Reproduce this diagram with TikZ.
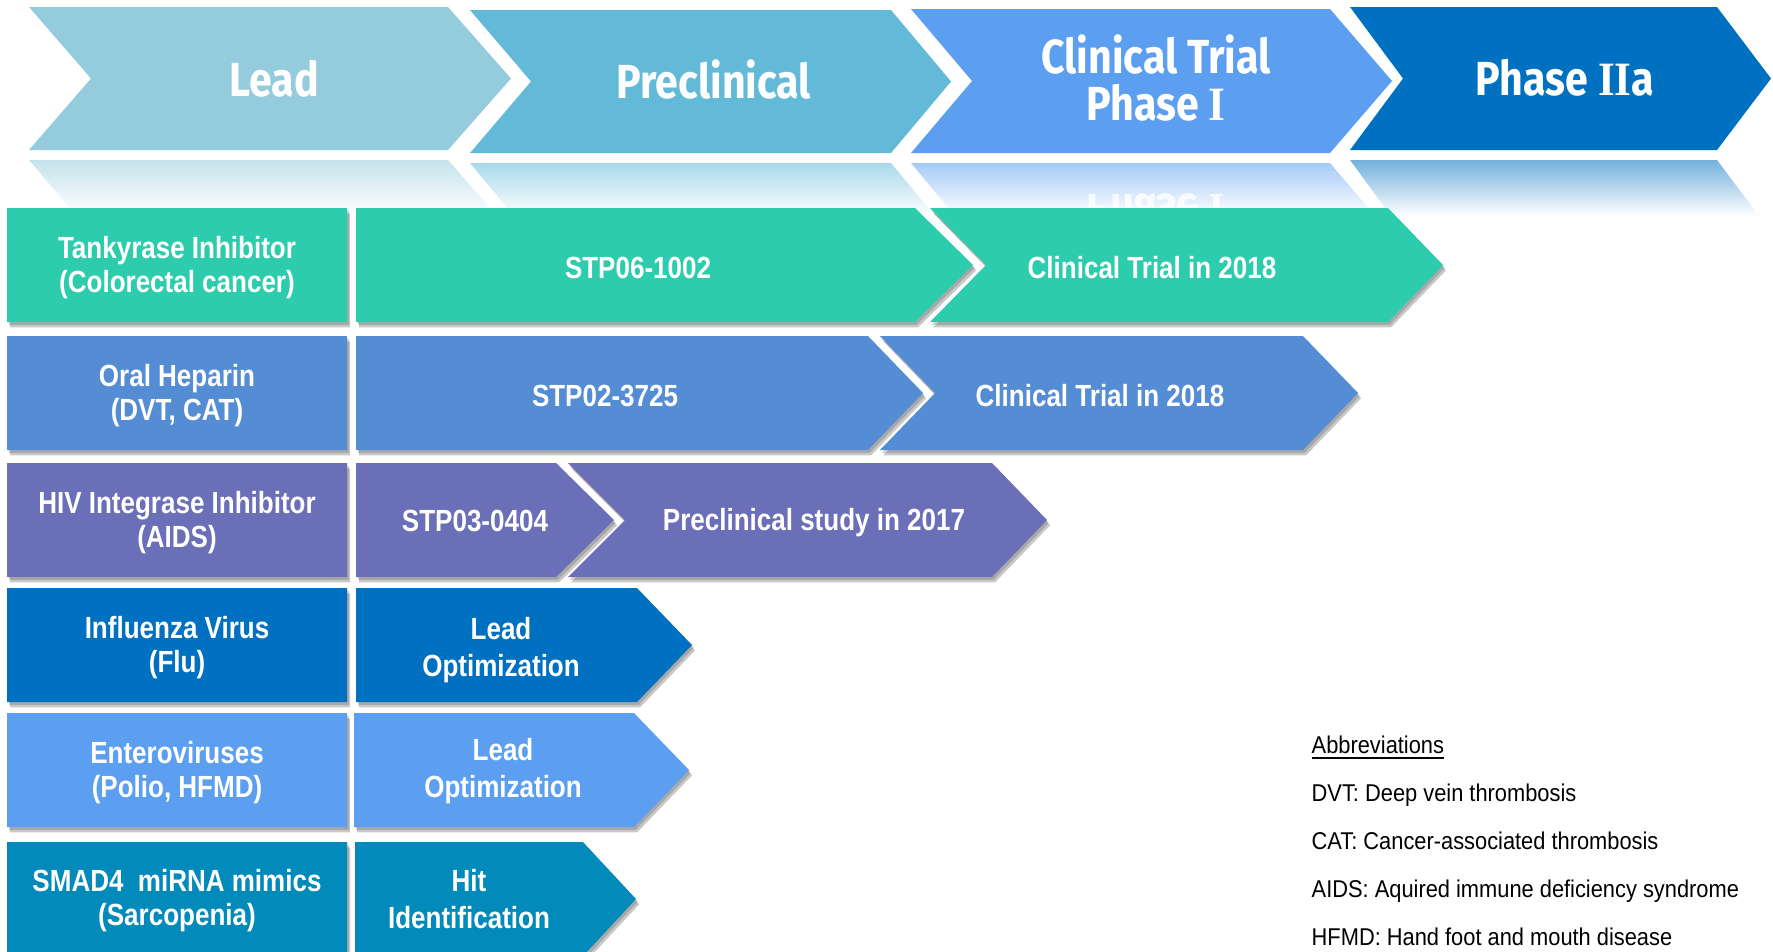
\documentclass[tikz,border=0pt]{standalone}
\usepackage{fontspec}
\setmainfont{Liberation Sans}
\newfontfamily\rowfont[FakeStretch=0.85]{Liberation Sans}
\newfontfamily\headfont[FakeStretch=0.86]{Fira Sans}
\newfontfamily\serI[FakeStretch=0.9]{Liberation Serif}
\newfontfamily\abbfont[FakeStretch=0.9]{Liberation Sans}
\newcommand\hI{{\serI\bfseries I}}
\usetikzlibrary{shadows}
\definecolor{hA}{HTML}{95CCDD}
\definecolor{hB}{HTML}{62BAD8}
\definecolor{hC}{HTML}{5C9FF0}
\definecolor{hD}{HTML}{0070C0}
\definecolor{rA}{HTML}{2DCCAD}
\definecolor{rB}{HTML}{548DD4}
\definecolor{rC}{HTML}{6B6FB8}
\definecolor{rD}{HTML}{0070C0}
\definecolor{rE}{HTML}{5C9FF0}
\definecolor{rF}{HTML}{028ABB}
% color, left, right-corner, top, bottom, tip depth, notch depth, extra options
\newcommand\chevshape[8]{%
  \fill[#1,#8] (#2,#4) -- (#3,#4) -- ({#3+#6},{(#4+#5)/2}) -- (#3,#5) -- (#2,#5) -- ({#2+#7},{(#4+#5)/2}) -- cycle;}
\tikzset{
  shad/.style={drop shadow={shadow xshift=0.9pt,shadow yshift=-1.5pt,opacity=.30,fill=black!70},
               drop shadow={shadow xshift=0.5pt,shadow yshift=-0.8pt,opacity=.25,fill=black!70}},
  headtxt/.style={text=white,font=\headfont\bfseries\fontsize{13.6}{13.2}\selectfont,align=center,inner sep=0pt},
  rowtxt/.style={text=white,font=\rowfont\bfseries\fontsize{8.7}{9.7}\selectfont,align=center,inner sep=0pt},
  rowtxtb/.style={text=white,font=\rowfont\bfseries\fontsize{8.7}{10.5}\selectfont,align=center,inner sep=0pt},
  abbtxt/.style={text=black,font=\abbfont\fontsize{6.9}{8}\selectfont,anchor=base west,inner sep=0pt}
}
\begin{document}
\begin{tikzpicture}[x=0.01cm,y=-0.01cm]
\useasboundingbox (0,0) rectangle (1773,951);
\fill[white] (0,0) rectangle (1773,951);
% header chevrons
\chevshape{hA}{29}{448}{7}{150}{63}{62}{}
\chevshape{hB}{470}{891}{10}{153}{60}{61}{}
\chevshape{hC}{911}{1330}{9}{153}{62}{61}{}
\chevshape{hD}{1350}{1717}{7}{150}{54}{53}{}
% reflections
\shade[top color=hA!55!white,bottom color=white] (29,160) -- (448,160) -- (497,216) -- (77,216) -- cycle;
\shade[top color=hB!55!white,bottom color=white] (470,163) -- (891,163) -- (935,216) -- (514,216) -- cycle;
\shade[top color=hC!55!white,bottom color=white] (911,163) -- (1330,163) -- (1375,216) -- (955,216) -- cycle;
\shade[top color=hD!55!white,bottom color=white] (1350,160) -- (1717,160) -- (1759,216) -- (1391,216) -- cycle;
\node[headtxt,yscale=-1,text=white,opacity=.8] (reflC) at (1156,212) {Phase \hI};
% header texts
\node[headtxt] (hLead) at (274,79) {Lead};
\node[headtxt] (hPre) at (714,80) {Preclinical};
\node[headtxt] (hClin) at (1156,78) {Clinical Trial\\Phase \hI};
\node[headtxt] (hPh) at (1565,78) {Phase \hI\hI a};
% row 1
\chevshape{rA}{7}{347}{208}{322}{0}{0}{shad}
\chevshape{rA}{356}{915}{208}{322}{58}{0}{shad}
\chevshape{rA}{930}{1388}{208}{322}{55}{56}{shad}
% row 2
\chevshape{rB}{7}{347}{336}{450}{0}{0}{shad}
\chevshape{rB}{356}{868}{336}{450}{55}{0}{shad}
\chevshape{rB}{880}{1303}{336}{450}{55}{55}{shad}
% row 3
\chevshape{rC}{7}{347}{463}{577}{0}{0}{shad}
\chevshape{rC}{356}{556}{463}{577}{58}{0}{shad}
\chevshape{rC}{568}{992}{463}{577}{55}{57}{shad}
% row 4
\chevshape{rD}{7}{347}{588}{702}{0}{0}{shad}
\chevshape{rD}{356}{637}{588}{702}{55}{0}{shad}
% row 5
\chevshape{rE}{7}{347}{713}{827}{0}{0}{shad}
\chevshape{rE}{354}{634}{713}{827}{55}{0}{shad}
% row 6
\chevshape{rF}{7}{347}{842}{956}{0}{0}{shad}
\chevshape{rF}{355}{583}{842}{956}{53}{0}{shad}
% row texts
\node[rowtxt] (l1) at (177,268) {Tankyrase Inhibitor\\(Colorectal cancer)};
\node[rowtxt] (a1) at (638,268) {STP06-1002};
\node[rowtxt] (b1) at (1152,268) {Clinical Trial in 2018};
\node[rowtxt] (l2) at (177,396) {Oral Heparin\\(DVT, CAT)};
\node[rowtxt] (a2) at (605,396) {STP02-3725};
\node[rowtxt] (b2) at (1100,396) {Clinical Trial in 2018};
\node[rowtxt] (l3) at (177,523) {HIV Integrase Inhibitor\\(AIDS)};
\node[rowtxt] (a3) at (475,521) {STP03-0404};
\node[rowtxt] (b3) at (814,523) {Preclinical study in 2017};
\node[rowtxt] (l4) at (177,648) {Influenza Virus\\(Flu)};
\node[rowtxtb] (a4) at (501,650) {Lead\\Optimization};
\node[rowtxt] (l5) at (177,773) {Enteroviruses\\(Polio, HFMD)};
\node[rowtxtb] (a5) at (503,771) {Lead\\Optimization};
\node[rowtxt] (l6) at (177,901) {SMAD4~~miRNA mimics\\(Sarcopenia)};
\node[rowtxtb] (a6) at (469,899) {Hit\\Identification};
% abbreviations
\node[abbtxt] (ab0) at (1311,753) {\underline{Abbreviations}};
\node[abbtxt] (ab1) at (1311,801) {DVT: Deep vein thrombosis};
\node[abbtxt] (ab2) at (1311,849) {CAT: Cancer-associated thrombosis};
\node[abbtxt] (ab3) at (1311,897) {AIDS: Aquired immune deficiency syndrome};
\node[abbtxt] (ab4) at (1311,945) {HFMD: Hand foot and mouth disease};
\end{tikzpicture}
\end{document}
